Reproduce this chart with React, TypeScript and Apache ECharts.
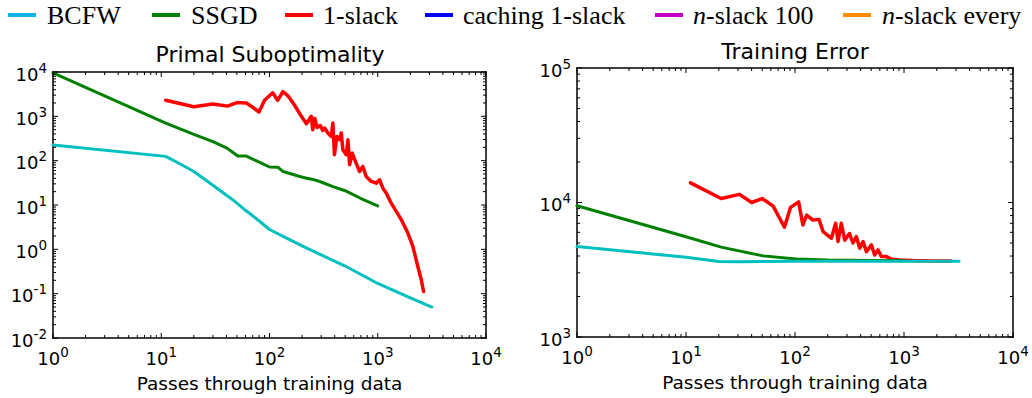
import React, { useEffect, useRef } from 'react';
import * as echarts from 'echarts';

// ---------- data ----------
const legendNames = ['BCFW', 'SSGD', '1-slack', 'caching 1-slack', '{i|n}-slack 100', '{i|n}-slack every'];
const legendColors = ['#0FB4E9', '#008000', '#FF0000', '#0000FF', '#C000C0', '#FF8C00'];

const bcfwPrimalX = [1, 11, 15, 20, 30, 46, 60, 81, 100, 150, 200, 300, 500, 700, 1000, 2000, 3160];
const bcfwPrimalY = [225, 125, 84, 57, 28, 13, 7.6, 4.3, 2.8, 1.7, 1.2, 0.75, 0.42, 0.27, 0.17, 0.08, 0.05];

const sgdPrimalX = [1, 11, 20, 30, 40, 51, 61, 75, 87, 100, 120, 133, 160, 190, 220, 260, 300, 385, 500, 700, 1000];
const sgdPrimalY = [9500, 700, 390, 270, 195, 128, 127, 100, 85, 72, 71, 57, 50, 44, 40, 37, 33, 26, 21, 14, 9.5];

const oneSlackPrimalX = [11, 20, 30, 41, 50, 61, 70, 80, 90, 107, 119, 133, 148, 170, 197, 219, 243, 251, 262, 275,
  295, 310, 323, 346, 372, 385, 398, 419, 444, 460, 476, 512, 530, 550, 581, 631, 679, 728, 782, 871,
  968, 1040, 1115, 1197, 1332, 1482, 1648, 1897, 2110, 2345, 2520, 2650];
const oneSlackPrimalY = [2300, 1650, 1900, 1700, 2050, 2000, 1600, 1250, 2300, 3400, 2300, 3600, 2900, 1800, 1000, 680, 1000, 500, 900, 560,
  620, 480, 546, 421, 352, 708, 136, 352, 297, 421, 177, 136, 295, 81, 148, 88, 57, 74, 44, 34,
  31, 37, 24, 18.6, 11, 7.2, 4.7, 2.33, 1.16, 0.41, 0.21, 0.112];

const bcfwTrainX = [1, 10, 20, 30, 100, 1000, 3200];
const bcfwTrainY = [4700, 3920, 3640, 3630, 3660, 3660, 3650];

const sgdTrainX = [1, 10, 21, 51, 103, 200, 500, 1000];
const sgdTrainY = [9460, 5560, 4660, 4010, 3800, 3730, 3700, 3690];

const oneSlackTrainX = [11, 21, 31, 40, 50, 63, 80, 91, 108, 118, 128, 146, 166, 181, 216, 236, 248, 266, 286, 316,
  340, 366, 392, 421, 452, 502, 538, 578, 620, 689, 766, 912, 1200, 2000, 2700];
const oneSlackTrainY = [14000, 10700, 11500, 10000, 10700, 9400, 6550, 9200, 10100, 6800, 8070, 7410, 7490, 6070, 5420, 7000, 5130, 7000, 5250, 5880,
  5000, 5570, 4570, 5120, 4310, 4840, 4070, 4440, 3960, 3960, 3790, 3740, 3700, 3680, 3670];

const xDecades = [0, 1, 2, 3, 4];
const primalDecades = [-2, -1, 0, 1, 2, 3, 4];
const trainDecades = [3, 4, 5];
const minorMultipliers = [2, 3, 4, 5, 6, 7, 8, 9];

const titles = ['Primal Suboptimality', 'Training Error'];
const xName = 'Passes through training data';

// ---------- helpers ----------
const FONT = 'DejaVu Sans';
const pairs = (xs: number[], ys: number[]) => xs.map((x, i) => [x, ys[i]]);
const majorVals = (dec: number[]) => dec.map((d) => Math.pow(10, d));
const minorVals = (dec: number[]) => {
  const out: number[] = [];
  for (let i = 0; i < dec.length - 1; i++) {
    for (const m of minorMultipliers) out.push(m * Math.pow(10, dec[i]));
  }
  return out;
};
const supFmt = (v: number) => `{b|10}{s|${Math.round(Math.log10(v))}}`;
const rich = {
  b: { fontSize: 18, fontFamily: FONT, color: '#000', verticalAlign: 'bottom', padding: [4.5, 0, 0, 0] },
  s: { fontSize: 13.5, fontFamily: FONT, color: '#000', verticalAlign: 'top' },
};
const MAJOR = 5;
const MINOR = 3;
const frameLine = { show: true, onZero: false, lineStyle: { color: '#000', width: 1.5, cap: 'square' } };

function frameAxis(gridIndex: number, position: string) {
  return {
    type: 'value',
    gridIndex,
    position,
    min: 0,
    max: 1,
    axisLine: frameLine,
    axisTick: { show: false },
    axisLabel: { show: false },
    splitLine: { show: false },
  };
}

export default function App() {
  const ref = useRef<HTMLDivElement>(null);
  useEffect(() => {
    if (!ref.current) return;
    const chart = echarts.init(ref.current, null, { renderer: 'svg' });

    const grids = [
      { left: 53, top: 72, width: 433, height: 266 },
      { left: 577, top: 68, width: 436, height: 269 },
    ];

    const yDecs = [primalDecades, trainDecades];
    const xAxis: any[] = [];
    const yAxis: any[] = [];
    [0, 1].forEach((g) => {
      xAxis.push({
        type: 'log',
        logBase: 10,
        gridIndex: g,
        position: 'bottom',
        min: 1,
        max: 10000,
        interval: 1,
        axisLine: frameLine,
        axisTick: { show: false },
        axisLabel: { formatter: supFmt, rich, margin: 7, showMinLabel: true, showMaxLabel: true },
        splitLine: { show: false },
        name: xName,
        nameLocation: 'middle',
        nameGap: 36,
        nameTextStyle: { fontFamily: FONT, fontSize: 18.5, color: '#000' },
      });
      xAxis.push(frameAxis(g, 'top'));

      const d = yDecs[g];
      yAxis.push({
        type: 'log',
        logBase: 10,
        gridIndex: g,
        position: 'left',
        min: Math.pow(10, d[0]),
        max: Math.pow(10, d[d.length - 1]),
        interval: 1,
        axisLine: frameLine,
        axisTick: { show: false },
        axisLabel: { formatter: supFmt, rich, margin: 6, showMinLabel: true, showMaxLabel: true },
        splitLine: { show: false },
      });
      yAxis.push(frameAxis(g, 'right'));
    });

    const line = (name: string, data: number[][], color: string, g: number, width = 3) => ({
      type: 'line',
      name,
      data,
      xAxisIndex: g * 2,
      yAxisIndex: g * 2,
      showSymbol: false,
      symbol: 'none',
      lineStyle: { color, width, join: 'round', cap: 'round' },
      itemStyle: { color },
      silent: true,
    });

    const series: any[] = [
      line('1-slack', pairs(oneSlackPrimalX, oneSlackPrimalY), '#FF0000', 0, 3.5),
      line('SSGD', pairs(sgdPrimalX, sgdPrimalY), '#008000', 0),
      line('BCFW', pairs(bcfwPrimalX, bcfwPrimalY), '#00BFBF', 0),
      line('1-slack', pairs(oneSlackTrainX, oneSlackTrainY), '#FF0000', 1, 3.5),
      line('SSGD', pairs(sgdTrainX, sgdTrainY), '#008000', 1),
      line('BCFW', pairs(bcfwTrainX, bcfwTrainY), '#00BFBF', 1),
    ];

    const legendLineX = [8, 152, 285, 425, 655, 843];
    const legendTextX = [47, 191, 323, 463, 693, 882];
    const legendFont = 'Liberation Serif';
    const graphic: any[] = [];
    legendNames.forEach((n, i) => {
      graphic.push({
        type: 'line',
        shape: { x1: legendLineX[i], y1: 15, x2: legendLineX[i] + 28, y2: 15 },
        style: { stroke: legendColors[i], lineWidth: 4 },
      });
      graphic.push({
        type: 'text',
        x: legendTextX[i],
        y: 15.5,
        style: {
          text: n,
          fontSize: 26,
          fontFamily: legendFont,
          fill: '#000',
          align: 'left',
          verticalAlign: 'middle',
          rich: { i: { fontStyle: 'italic', fontSize: 26, fontFamily: legendFont, fill: '#000' } },
        },
      });
    });
    const titleX = [270, 795];
    const titleY = [54, 51.3];
    titles.forEach((t, i) => {
      graphic.push({
        type: 'text',
        x: titleX[i],
        y: titleY[i],
        style: { text: t, fontSize: 22, fontFamily: FONT, fill: '#000', align: 'center', verticalAlign: 'middle' },
      });
    });

    chart.setOption({
      animation: false,
      backgroundColor: '#fff',
      grid: grids,
      xAxis,
      yAxis,
      series,
    });

    // inward ticks on all four sides, positioned through the axes' own scales
    const tickStyle = { stroke: '#000', lineWidth: 1 };
    [0, 1].forEach((g) => {
      const r = grids[g];
      const bottom = r.top + r.height;
      const right = r.left + r.width;
      const xt = [
        ...majorVals(xDecades).map((v) => [v, MAJOR]),
        ...minorVals(xDecades).map((v) => [v, MINOR]),
      ];
      xt.forEach(([v, len]) => {
        const px = chart.convertToPixel({ xAxisIndex: g * 2 } as any, v) as unknown as number;
        if (typeof px !== 'number' || !isFinite(px)) return;
        graphic.push({ type: 'line', z: 50, silent: true, shape: { x1: px, y1: bottom, x2: px, y2: bottom - len }, style: tickStyle });
        graphic.push({ type: 'line', z: 50, silent: true, shape: { x1: px, y1: r.top, x2: px, y2: r.top + len }, style: tickStyle });
      });
      const d = yDecs[g];
      const yt = [...majorVals(d).map((v) => [v, MAJOR]), ...minorVals(d).map((v) => [v, MINOR])];
      yt.forEach(([v, len]) => {
        const py = chart.convertToPixel({ yAxisIndex: g * 2 } as any, v) as unknown as number;
        if (typeof py !== 'number' || !isFinite(py)) return;
        graphic.push({ type: 'line', z: 50, silent: true, shape: { x1: r.left, y1: py, x2: r.left + len, y2: py }, style: tickStyle });
        graphic.push({ type: 'line', z: 50, silent: true, shape: { x1: right, y1: py, x2: right - len, y2: py }, style: tickStyle });
      });
    });

    chart.setOption({ graphic });
    return () => chart.dispose();
  }, []);
  return <div ref={ref} style={{ position: 'absolute', left: 0, top: 0, width: 1032, height: 398 }} />;
}
